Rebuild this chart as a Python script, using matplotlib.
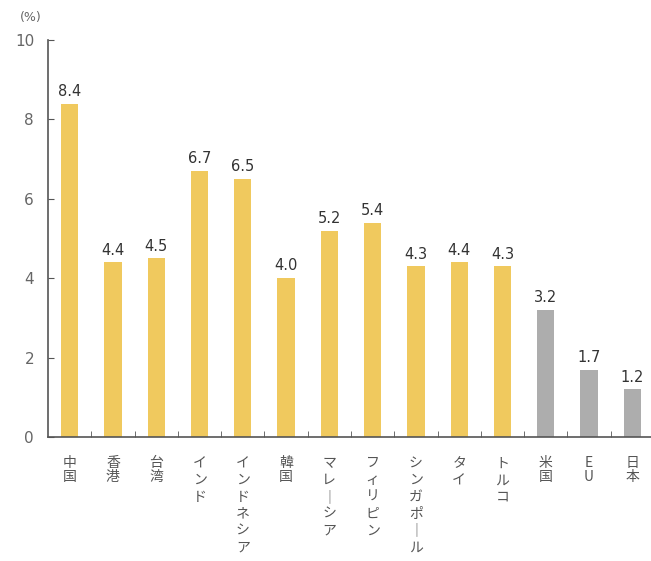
import matplotlib
matplotlib.use("Agg")
import matplotlib.pyplot as plt
from matplotlib.ticker import FixedLocator

plt.rcParams['font.family'] = ['Noto Sans CJK JP', 'DejaVu Sans']

categories = ["中国", "香港", "台湾", "インド", "インドネシア", "韓国", "マレーシア",
              "フィリピン", "シンガポール", "タイ", "トルコ", "米国", "EU", "日本"]
values = [8.4, 4.4, 4.5, 6.7, 6.5, 4.0, 5.2, 5.4, 4.3, 4.4, 4.3, 3.2, 1.7, 1.2]
groups = ["asia"] * 11 + ["developed"] * 3
yticks = [0, 2, 4, 6, 8, 10]

colors = {"asia": "#F0C95E", "developed": "#ADADAD"}

fig = plt.figure(figsize=(6.51, 5.61), dpi=100)
W, H = 651, 561
left_px, right_px, top_px, bot_px = 48, 654, 40, 437
ax = fig.add_axes([left_px / W, (H - bot_px) / H, (right_px - left_px) / W, (bot_px - top_px) / H])

x = list(range(len(categories)))
ax.bar(x, values, width=0.4, color=[colors[g] for g in groups], zorder=2)

for xi, v in zip(x, values):
    ax.text(xi, v + 0.12, f"{v:.1f}", ha="center", va="bottom", fontsize=10.5,
            color="#333333", family="DejaVu Sans")

ax.set_xlim(-0.5, len(categories) - 0.5)
ax.set_ylim(0, 10)
ax.set_yticks(yticks)
ax.set_yticklabels([str(t) for t in yticks], fontsize=11, color="#666666", family="DejaVu Sans")
ax.tick_params(axis="y", direction="in", length=4, color="#555555", pad=10)

ax.set_xticks(x)
ax.set_xticklabels([])
ax.tick_params(axis="x", which="major", length=0)
ax.xaxis.set_minor_locator(FixedLocator([i + 0.5 for i in range(len(categories) - 1)]))
ax.tick_params(axis="x", which="minor", direction="in", length=4, color="#555555")

for s in ["top", "right"]:
    ax.spines[s].set_visible(False)
for s in ["left", "bottom"]:
    ax.spines[s].set_color("#555555")
    ax.spines[s].set_linewidth(1.2)

def vertical(label):
    return "\n".join("｜" if c == "ー" else c for c in label)

def is_kana(label):
    return any("\u30a0" <= c <= "\u30ff" for c in label)

for xi, c in zip(x, categories):
    ax.annotate(vertical(c), xy=(xi, 0), xycoords="data", xytext=(0, -14),
                textcoords="offset points", ha="center", va="top", fontsize=10,
                color="#555555", linespacing=1.25 if is_kana(c) else 0.92)

fig.text(20 / W, 1 - 18 / H, "(%)", fontsize=9, color="#666666", ha="left", va="center",
         family="DejaVu Sans")

fig.savefig("out.png", dpi=100)
